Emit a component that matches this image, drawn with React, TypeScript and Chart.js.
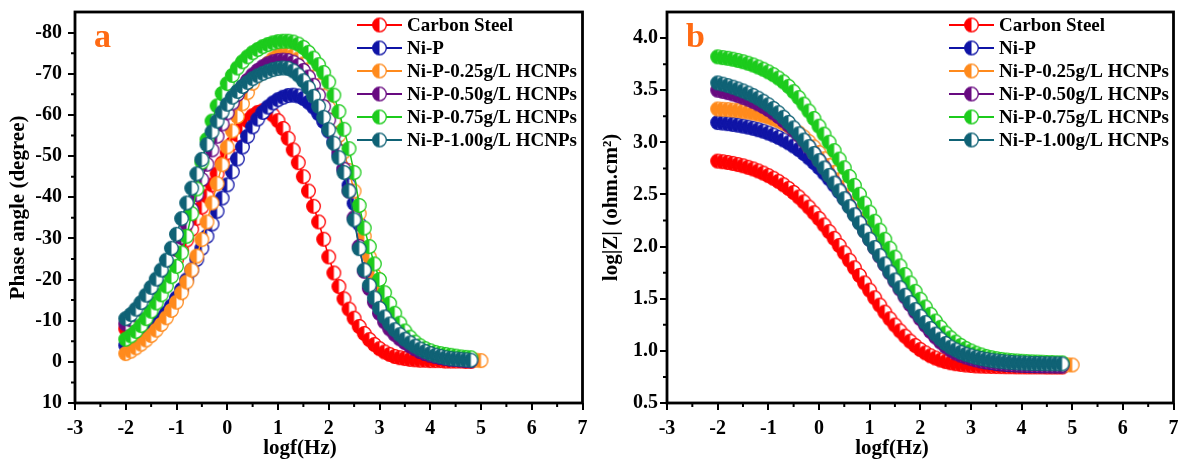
import React, { useEffect, useRef } from "react";
import { Chart, registerables } from "chart.js";

Chart.register(...registerables);

const FONT = '"Liberation Serif", "Times New Roman", serif';

// ---------- data ----------
const SERIES = [
  "Carbon Steel",
  "Ni-P",
  "Ni-P-0.25g/L HCNPs",
  "Ni-P-0.50g/L HCNPs",
  "Ni-P-0.75g/L HCNPs",
  "Ni-P-1.00g/L HCNPs",
];
const COLORS = ["#FF0000", "#0F14A6", "#FF8A1C", "#680A80", "#1CCB1C", "#0F6275"];

const X_TITLE = "logf(Hz)";
const Y_TITLE_A = "Phase angle (degree)";
const Y_TITLE_B = "log|Z| (ohm.cm\u00B2)";

const LOGF = [
  -2.0, -1.9, -1.8, -1.7, -1.6, -1.5, -1.4, -1.3, -1.2, -1.1,
  -1.0, -0.9, -0.8, -0.7, -0.6, -0.5, -0.4, -0.3, -0.2, -0.1,
  0.0, 0.1, 0.2, 0.3, 0.4, 0.5, 0.6, 0.7, 0.8, 0.9,
  1.0, 1.1, 1.2, 1.3, 1.4, 1.5, 1.6, 1.7, 1.8, 1.9,
  2.0, 2.1, 2.2, 2.3, 2.4, 2.5, 2.6, 2.7, 2.8, 2.9,
  3.0, 3.1, 3.2, 3.3, 3.4, 3.5, 3.6, 3.7, 3.8, 3.9,
  4.0, 4.1, 4.2, 4.3, 4.4, 4.5, 4.6, 4.7, 4.8,
];
const LOGF_025 = [
  -2.0, -1.9, -1.8, -1.7, -1.6, -1.5, -1.4, -1.3, -1.2, -1.1,
  -1.0, -0.9, -0.8, -0.7, -0.6, -0.5, -0.4, -0.3, -0.2, -0.1,
  0.0, 0.1, 0.2, 0.3, 0.4, 0.5, 0.6, 0.7, 0.8, 0.9,
  1.0, 1.1, 1.2, 1.3, 1.4, 1.5, 1.6, 1.7, 1.8, 1.9,
  2.0, 2.1, 2.2, 2.3, 2.4, 2.5, 2.6, 2.7, 2.8, 2.9,
  3.0, 3.1, 3.2, 3.3, 3.4, 3.5, 3.6, 3.7, 3.8, 3.9,
  4.0, 4.1, 4.2, 4.3, 4.4, 4.5, 4.6, 4.7, 4.8, 4.9, 5.0,
];

// Phase angle (degree)
const PHASE_CS = [
  -8.0, -9.0, -10.3, -11.6, -13.0, -14.6, -16.3, -18.2, -20.2, -22.4,
  -24.7, -27.1, -29.6, -32.2, -34.9, -37.6, -40.3, -43.0, -45.7, -48.3,
  -50.8, -53.1, -55.2, -57.0, -58.6, -59.8, -60.6, -61.0, -60.8, -60.0,
  -58.6, -56.7, -54.3, -51.5, -48.4, -45.0, -41.5, -37.8, -34.0, -29.8,
  -25.5, -21.6, -18.3, -15.3, -12.8, -10.6, -8.6, -6.9, -5.4, -4.2,
  -3.2, -2.4, -1.8, -1.3, -1.0, -0.8, -0.6, -0.5, -0.4, -0.4,
  -0.3, -0.3, -0.3, -0.2, -0.2, -0.2, -0.2, -0.1, -0.1,
];
const PHASE_NIP = [
  -4.0, -4.6, -5.3, -6.1, -7.0, -8.0, -9.1, -10.4, -11.9, -13.6,
  -15.5, -17.6, -19.9, -22.3, -24.9, -27.6, -30.5, -33.5, -36.6, -39.8,
  -43.0, -46.2, -49.3, -52.2, -54.8, -57.1, -59.0, -60.6, -61.9, -62.9,
  -63.7, -64.3, -64.7, -64.8, -64.6, -64.0, -63.1, -61.9, -60.3, -58.4,
  -56.1, -53.4, -50.3, -46.8, -42.9, -38.5, -33.5, -28.2, -23.2, -18.9,
  -15.3, -12.3, -9.9, -8.0, -6.4, -5.1, -4.1, -3.3, -2.6, -2.1,
  -1.7, -1.4, -1.1, -0.9, -0.7, -0.6, -0.5, -0.4, -0.3,
];
const PHASE_025 = [
  -2.0, -2.6, -3.4, -4.3, -5.3, -6.4, -7.7, -9.1, -10.7, -12.5,
  -14.5, -16.8, -19.4, -22.3, -25.7, -29.7, -34.0, -38.6, -43.3, -47.9,
  -52.2, -56.1, -59.6, -62.7, -65.4, -67.7, -69.6, -71.2, -72.5, -73.6,
  -74.4, -74.8, -74.8, -74.4, -73.6, -72.4, -71.0, -69.2, -67.1, -64.6,
  -61.8, -58.6, -55.0, -51.0, -46.5, -41.5, -36.0, -30.5, -25.5, -21.0,
  -17.2, -14.0, -11.3, -9.1, -7.3, -5.8, -4.6, -3.7, -3.0, -2.4,
  -1.9, -1.6, -1.3, -1.1, -0.9, -0.8, -0.7, -0.6, -0.5, -0.4, -0.3,
];
const PHASE_050 = [
  -9.2, -10.2, -11.4, -12.8, -14.4, -16.1, -18.0, -20.0, -22.2, -24.6,
  -27.3, -30.3, -33.5, -37.0, -40.6, -44.3, -48.0, -51.5, -54.8, -57.8,
  -60.5, -62.9, -65.0, -66.8, -68.4, -69.7, -70.8, -71.7, -72.4, -72.9,
  -73.2, -73.3, -73.2, -72.8, -72.0, -70.8, -69.2, -67.2, -64.8, -62.0,
  -58.8, -55.2, -51.2, -46.8, -41.5, -35.0, -28.0, -22.0, -17.8, -14.5,
  -11.8, -9.7, -8.0, -6.7, -5.6, -4.7, -3.9, -3.2, -2.6, -2.1,
  -1.7, -1.4, -1.1, -0.9, -0.7, -0.6, -0.5, -0.4, -0.3,
];
const PHASE_075 = [
  -5.5, -6.3, -7.4, -8.8, -10.5, -12.3, -14.3, -16.3, -18.4, -20.7,
  -23.2, -26.5, -30.5, -36.0, -42.0, -48.5, -54.0, -58.5, -62.2, -65.2,
  -67.6, -69.6, -71.4, -72.9, -74.1, -75.1, -75.9, -76.6, -77.1, -77.5,
  -77.8, -77.9, -77.9, -77.7, -77.2, -76.4, -75.2, -73.8, -72.2, -70.3,
  -68.0, -64.8, -60.8, -56.5, -51.8, -46.0, -38.0, -32.5, -28.0, -23.8,
  -20.0, -16.8, -14.2, -11.8, -9.4, -7.5, -6.0, -4.8, -3.9, -3.2,
  -2.7, -2.3, -2.0, -1.8, -1.6, -1.4, -1.2, -1.1, -1.0,
];
const PHASE_100 = [
  -10.5, -11.5, -12.8, -14.4, -16.2, -18.1, -20.1, -22.3, -24.7, -27.6,
  -31.0, -34.8, -38.6, -42.2, -45.7, -49.2, -52.8, -55.9, -58.5, -60.7,
  -62.6, -64.3, -65.7, -66.9, -67.9, -68.8, -69.5, -70.1, -70.6, -71.0,
  -71.3, -71.4, -71.3, -70.7, -69.7, -68.3, -66.6, -64.5, -62.1, -59.4,
  -56.4, -53.1, -49.6, -46.0, -41.5, -34.5, -27.5, -22.3, -18.6, -15.5,
  -13.0, -10.9, -9.2, -7.8, -6.6, -5.5, -4.6, -3.8, -3.1, -2.5,
  -2.0, -1.6, -1.3, -1.0, -0.8, -0.7, -0.6, -0.5, -0.4,
];

// log|Z| (ohm.cm2)
const LOGZ_CS = [
  2.820, 2.814, 2.807, 2.798, 2.787, 2.775, 2.761, 2.745, 2.726, 2.705,
  2.681, 2.655, 2.626, 2.593, 2.558, 2.519, 2.476, 2.429, 2.379, 2.325,
  2.269, 2.208, 2.144, 2.079, 2.011, 1.941, 1.869, 1.797, 1.724, 1.652,
  1.582, 1.509, 1.439, 1.372, 1.308, 1.248, 1.192, 1.141, 1.093, 1.051,
  1.013, 0.981, 0.953, 0.931, 0.912, 0.897, 0.886, 0.877, 0.870, 0.864,
  0.860, 0.856, 0.854, 0.852, 0.851, 0.850, 0.849, 0.848, 0.848, 0.847,
  0.847, 0.846, 0.846, 0.846, 0.846, 0.845, 0.845, 0.845, 0.845,
];
const LOGZ_NIP = [
  3.190, 3.185, 3.179, 3.172, 3.165, 3.156, 3.146, 3.135, 3.121, 3.107,
  3.089, 3.070, 3.048, 3.023, 2.996, 2.965, 2.931, 2.893, 2.852, 2.807,
  2.759, 2.707, 2.651, 2.591, 2.528, 2.463, 2.395, 2.325, 2.253, 2.180,
  2.105, 2.030, 1.955, 1.879, 1.803, 1.727, 1.653, 1.580, 1.508, 1.438,
  1.371, 1.307, 1.246, 1.189, 1.137, 1.089, 1.047, 1.011, 0.980, 0.956,
  0.936, 0.920, 0.907, 0.896, 0.888, 0.881, 0.875, 0.871, 0.868, 0.865,
  0.863, 0.861, 0.859, 0.858, 0.857, 0.857, 0.856, 0.855, 0.855,
];
const LOGZ_025 = [
  3.320, 3.317, 3.314, 3.310, 3.305, 3.298, 3.291, 3.281, 3.270, 3.258,
  3.243, 3.226, 3.206, 3.183, 3.157, 3.126, 3.091, 3.052, 3.007, 2.957,
  2.902, 2.842, 2.779, 2.712, 2.642, 2.569, 2.493, 2.416, 2.337, 2.257,
  2.176, 2.094, 2.012, 1.930, 1.849, 1.769, 1.690, 1.613, 1.539, 1.466,
  1.397, 1.331, 1.269, 1.210, 1.157, 1.109, 1.066, 1.030, 0.999, 0.973,
  0.953, 0.935, 0.922, 0.910, 0.901, 0.894, 0.888, 0.884, 0.880, 0.877,
  0.875, 0.873, 0.872, 0.870, 0.869, 0.868, 0.868, 0.867, 0.866, 0.866, 0.865,
];
const LOGZ_050 = [
  3.500, 3.489, 3.477, 3.464, 3.449, 3.432, 3.414, 3.393, 3.369, 3.344,
  3.315, 3.283, 3.248, 3.209, 3.166, 3.120, 3.069, 3.014, 2.955, 2.893,
  2.828, 2.760, 2.690, 2.617, 2.543, 2.467, 2.389, 2.311, 2.231, 2.151,
  2.071, 1.990, 1.909, 1.829, 1.749, 1.670, 1.593, 1.518, 1.445, 1.375,
  1.309, 1.246, 1.187, 1.133, 1.085, 1.043, 1.008, 0.980, 0.958, 0.941,
  0.926, 0.914, 0.904, 0.896, 0.890, 0.884, 0.879, 0.875, 0.872, 0.870,
  0.867, 0.866, 0.864, 0.863, 0.862, 0.861, 0.861, 0.860, 0.860,
];
const LOGZ_075 = [
  3.820, 3.813, 3.806, 3.797, 3.786, 3.773, 3.759, 3.742, 3.722, 3.701,
  3.676, 3.649, 3.617, 3.580, 3.537, 3.486, 3.429, 3.367, 3.300, 3.229,
  3.155, 3.079, 3.001, 2.921, 2.839, 2.756, 2.672, 2.587, 2.502, 2.416,
  2.330, 2.243, 2.157, 2.070, 1.984, 1.899, 1.815, 1.732, 1.651, 1.571,
  1.495, 1.421, 1.351, 1.286, 1.226, 1.171, 1.125, 1.085, 1.052, 1.023,
  0.999, 0.978, 0.961, 0.947, 0.935, 0.925, 0.918, 0.912, 0.907, 0.903,
  0.900, 0.897, 0.895, 0.893, 0.891, 0.889, 0.888, 0.886, 0.885,
];
const LOGZ_100 = [
  3.570, 3.558, 3.544, 3.529, 3.512, 3.493, 3.472, 3.449, 3.423, 3.394,
  3.361, 3.325, 3.284, 3.240, 3.191, 3.139, 3.082, 3.022, 2.959, 2.893,
  2.825, 2.754, 2.683, 2.609, 2.535, 2.459, 2.383, 2.305, 2.227, 2.149,
  2.070, 1.991, 1.913, 1.834, 1.756, 1.680, 1.605, 1.533, 1.463, 1.396,
  1.332, 1.271, 1.214, 1.161, 1.113, 1.071, 1.036, 1.009, 0.986, 0.967,
  0.952, 0.938, 0.927, 0.918, 0.910, 0.903, 0.898, 0.893, 0.889, 0.886,
  0.884, 0.882, 0.880, 0.879, 0.878, 0.877, 0.876, 0.876, 0.875,
];

const X_TICKS = [-3, -2, -1, 0, 1, 2, 3, 4, 5, 6, 7];
const X_MINOR = [-2.5, -1.5, -0.5, 0.5, 1.5, 2.5, 3.5, 4.5, 5.5, 6.5];
const PHASE_TICKS = [-80, -70, -60, -50, -40, -30, -20, -10, 0, 10];
const PHASE_MINOR = [-75, -65, -55, -45, -35, -25, -15, -5, 5];
const LOGZ_TICKS = [0.5, 1.0, 1.5, 2.0, 2.5, 3.0, 3.5, 4.0];
const LOGZ_MINOR = [0.75, 1.25, 1.75, 2.25, 2.75, 3.25, 3.75];

const PHASE_SETS = [PHASE_CS, PHASE_NIP, PHASE_025, PHASE_050, PHASE_075, PHASE_100];
const LOGZ_SETS = [LOGZ_CS, LOGZ_NIP, LOGZ_025, LOGZ_050, LOGZ_075, LOGZ_100];
const X_SETS = [LOGF, LOGF, LOGF_025, LOGF, LOGF, LOGF];

// ---------- drawing helpers ----------
function makeMarker(color: string, r: number) {
  const c = document.createElement("canvas");
  const s = Math.ceil(r * 2 + 3);
  c.width = s;
  c.height = s;
  const ctx = c.getContext("2d")!;
  const cx = s / 2;
  const cy = s / 2;
  ctx.beginPath();
  ctx.arc(cx, cy, r, 0, Math.PI * 2);
  ctx.fillStyle = "#ffffff";
  ctx.fill();
  ctx.beginPath();
  ctx.moveTo(cx, cy);
  ctx.arc(cx, cy, r, -Math.PI / 2, Math.PI / 2, true);
  ctx.closePath();
  ctx.fillStyle = color;
  ctx.fill();
  ctx.beginPath();
  ctx.arc(cx, cy, r, 0, Math.PI * 2);
  ctx.strokeStyle = color;
  ctx.lineWidth = 1.3;
  ctx.stroke();
  return c;
}

function makePlugins(letter: string, yMinor: number[]) {
  return [
    {
      id: "frameMinor",
      afterDraw(chart: any) {
        const { ctx, chartArea: a, scales } = chart;
        ctx.save();
        ctx.strokeStyle = "#000";
        ctx.lineWidth = 2;
        ctx.beginPath();
        for (const v of X_MINOR) {
          const px = scales.x.getPixelForValue(v);
          ctx.moveTo(px, a.bottom);
          ctx.lineTo(px, a.bottom + 4);
        }
        for (const v of yMinor) {
          const py = scales.y.getPixelForValue(v);
          ctx.moveTo(a.left, py);
          ctx.lineTo(a.left - 4, py);
        }
        ctx.stroke();
        ctx.lineWidth = 2.8;
        ctx.strokeRect(a.left, a.top, a.right - a.left, a.bottom - a.top);
        // x-axis title (placed left of centre, as in the original figure)
        ctx.fillStyle = "#000";
        ctx.font = `bold 21px ${FONT}`;
        ctx.textAlign = "center";
        ctx.textBaseline = "middle";
        ctx.fillText(X_TITLE, a.left + 225, a.bottom + 46);
        ctx.restore();
      },
    },
    {
      id: "legendLetter",
      afterDraw(chart: any) {
        const { ctx, chartArea: a } = chart;
        ctx.save();
        ctx.fillStyle = "#FF6A13";
        ctx.font = `bold 34px ${FONT}`;
        ctx.textBaseline = "alphabetic";
        ctx.textAlign = "left";
        ctx.fillText(letter, a.left + 19, a.top + 35);
        const lx = a.left + 282;
        chart.data.datasets.forEach((ds: any, i: number) => {
          const y = a.top + 13 + i * 23;
          ctx.strokeStyle = ds.borderColor;
          ctx.lineWidth = 2.2;
          ctx.beginPath();
          ctx.moveTo(lx, y);
          ctx.lineTo(lx + 45, y);
          ctx.stroke();
          const img = ds.pointStyle;
          ctx.drawImage(img, lx + 22.5 - img.width / 2, y - img.height / 2);
          ctx.fillStyle = "#000";
          ctx.font = `bold 19px ${FONT}`;
          ctx.textBaseline = "middle";
          ctx.fillText(ds.label, lx + 50, y + 1);
        });
        ctx.restore();
      },
    },
  ];
}

function zeroPad(s: any) {
  s.paddingTop = 0;
  s.paddingBottom = 0;
  s.paddingLeft = 0;
  s.paddingRight = 0;
}

function buildConfig(kind: "phase" | "logz"): any {
  const isPhase = kind === "phase";
  const ySets = isPhase ? PHASE_SETS : LOGZ_SETS;
  const datasets = SERIES.map((name, i) => ({
    label: name,
    data: X_SETS[i].map((x, j) => ({ x, y: ySets[i][j] })),
    showLine: true,
    borderColor: COLORS[i],
    backgroundColor: COLORS[i],
    borderWidth: 1.5,
    pointStyle: makeMarker(COLORS[i], 6.8),
    pointRadius: 7,
    order: SERIES.length - 1 - i,
  }));
  const tickFont = { family: FONT, size: 20, weight: "bold" };
  const titleFont = { family: FONT, size: 21, weight: "bold" };
  const gridOpts = {
    display: true,
    drawOnChartArea: false,
    drawTicks: true,
    tickLength: 7,
    lineWidth: 2,
    tickWidth: 2,
    color: "#000",
    tickColor: "#000",
  };
  return {
    type: "scatter",
    data: { datasets },
    options: {
      animation: false,
      responsive: false,
      devicePixelRatio: 1,
      events: [],
      layout: { padding: { left: 0, top: 12, right: isPhase ? 6 : 5, bottom: 0 } },
      plugins: { legend: { display: false }, tooltip: { enabled: false } },
      scales: {
        x: {
          type: "linear",
          min: -3,
          max: 7,
          afterBuildTicks: (s: any) => {
            s.ticks = X_TICKS.map((v) => ({ value: v }));
          },
          afterFit: (s: any) => {
            s.height = 63;
            zeroPad(s);
          },
          grid: gridOpts,
          border: { display: false },
          ticks: {
            color: "#000",
            font: tickFont,
            padding: 7,
            maxRotation: 0,
            autoSkip: false,
            callback: (v: number) => String(v),
          },
          title: { display: false },
        },
        y: {
          type: "linear",
          min: isPhase ? -85 : 0.5,
          max: isPhase ? 10 : 4.25,
          reverse: isPhase,
          afterBuildTicks: (s: any) => {
            s.ticks = (isPhase ? PHASE_TICKS : LOGZ_TICKS).map((v) => ({ value: v }));
          },
          afterFit: (s: any) => {
            s.width = isPhase ? 75 : 76;
            zeroPad(s);
          },
          grid: gridOpts,
          border: { display: false },
          ticks: {
            color: "#000",
            font: tickFont,
            padding: isPhase ? 6 : 2,
            autoSkip: false,
            callback: (v: number) => (isPhase ? String(v) : v.toFixed(1)),
          },
          title: {
            display: true,
            text: isPhase ? Y_TITLE_A : Y_TITLE_B,
            color: "#000",
            font: titleFont,
            padding: { top: isPhase ? 6 : 8, bottom: 0 },
          },
        },
      },
    },
    plugins: makePlugins(isPhase ? "a" : "b", isPhase ? PHASE_MINOR : LOGZ_MINOR),
  };
}

function Panel({ kind, left }: { kind: "phase" | "logz"; left: number }) {
  const ref = useRef<HTMLCanvasElement>(null);
  useEffect(() => {
    const chart = new Chart(ref.current as HTMLCanvasElement, buildConfig(kind));
    return () => chart.destroy();
  }, [kind]);
  return (
    <div style={{ position: "absolute", left, top: 0, width: 591, height: 466 }}>
      <canvas ref={ref} width={591} height={466} style={{ display: "block" }} />
    </div>
  );
}

export default function App() {
  return (
    <div
      style={{
        position: "absolute",
        left: 0,
        top: 0,
        width: 1182,
        height: 466,
        background: "#ffffff",
        overflow: "hidden",
      }}
    >
      <Panel kind="phase" left={0} />
      <Panel kind="logz" left={591} />
    </div>
  );
}
